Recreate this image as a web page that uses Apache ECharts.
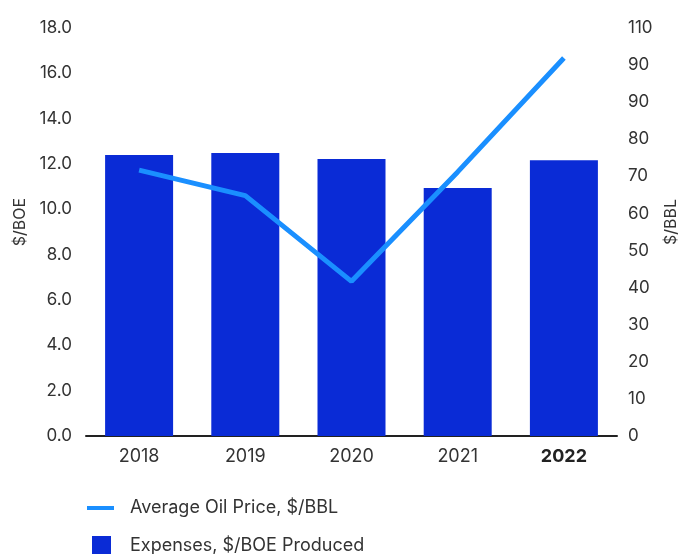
<!DOCTYPE html>
<html><head><meta charset="utf-8">
<script src="https://cdn.jsdelivr.net/npm/echarts@6/dist/echarts.min.js"></script>
<style>html,body{margin:0;padding:0;background:#fff}#c{width:679px;height:554px}</style>
</head><body><div id="c"></div>
<script>
const categories = ['2018', '2019', '2020', '2021', '2022'];
const expenses = [12.4, 12.48, 12.22, 10.94, 12.17];
const oilPrice = [71.7, 64.8, 41.7, 71.2, 101.9];
const rightTickLabels = ['0','10','20','30','40','50','60','70','80','90','90','110'];
const FONT = 'Inter';
const chart = echarts.init(document.getElementById('c'));
chart.setOption({
  animation: false,
  textStyle: {fontFamily: FONT},
  grid: {left: 86, right: 62, top: 28, bottom: 118, containLabel: false, outerBoundsMode: 'none'},
  legend: [
    {data: ['Average Oil Price, $/BBL'], left: 82, top: 494, itemWidth: 27, itemHeight: 4, icon: 'rect',
     textStyle: {fontFamily: FONT, fontSize: 18, color: '#333', padding: [0,0,0,11]}},
    {data: ['Expenses, $/BOE Produced'], left: 87, top: 531, itemWidth: 19, itemHeight: 19, icon: 'rect',
     textStyle: {fontFamily: FONT, fontSize: 18, color: '#333', padding: [0,0,0,14]}}
  ],
  xAxis: {
    type: 'category', data: categories,
    axisLine: {lineStyle: {color: '#222', width: 2}},
    axisTick: {show: false},
    axisLabel: {fontFamily: FONT, fontSize: 18, color: '#333', margin: 12,
      formatter: function (v) { return v === '2022' ? '{b|' + v + '}' : v; },
      rich: {b: {fontFamily: FONT, fontSize: 18, fontWeight: 'bold', color: '#222'}}}
  },
  yAxis: [
    {type: 'value', min: 0, max: 18, interval: 2, name: '$/BOE', nameLocation: 'middle', nameRotate: 90, nameGap: 57,
     nameTextStyle: {fontFamily: FONT, fontSize: 16, color: '#333', padding: [0,0,0,20]},
     axisLine: {show: false}, axisTick: {show: false}, splitLine: {show: false},
     axisLabel: {fontFamily: FONT, fontSize: 17, color: '#333', margin: 14, formatter: v => v.toFixed(1)}},
    {type: 'value', min: 0, max: 110, interval: 10, position: 'right', name: '$/BBL', nameLocation: 'middle', nameRotate: 90, nameGap: 45,
     nameTextStyle: {fontFamily: FONT, fontSize: 16, color: '#333', padding: [0,0,0,20]},
     axisLine: {show: false}, axisTick: {show: false}, splitLine: {show: false},
     axisLabel: {fontFamily: FONT, fontSize: 17, color: '#333', margin: 11, formatter: v => rightTickLabels[Math.round(v / 10)]}}
  ],
  series: [
    {name: 'Expenses, $/BOE Produced', type: 'bar', data: expenses, barWidth: 68, yAxisIndex: 0,
     itemStyle: {color: '#0a2bd6'}},
    {name: 'Average Oil Price, $/BBL', type: 'line', data: oilPrice, yAxisIndex: 1, symbol: 'none',
     lineStyle: {color: '#1a8fff', width: 5}, itemStyle: {color: '#1a8fff'}}
  ]
});
</script></body></html>
